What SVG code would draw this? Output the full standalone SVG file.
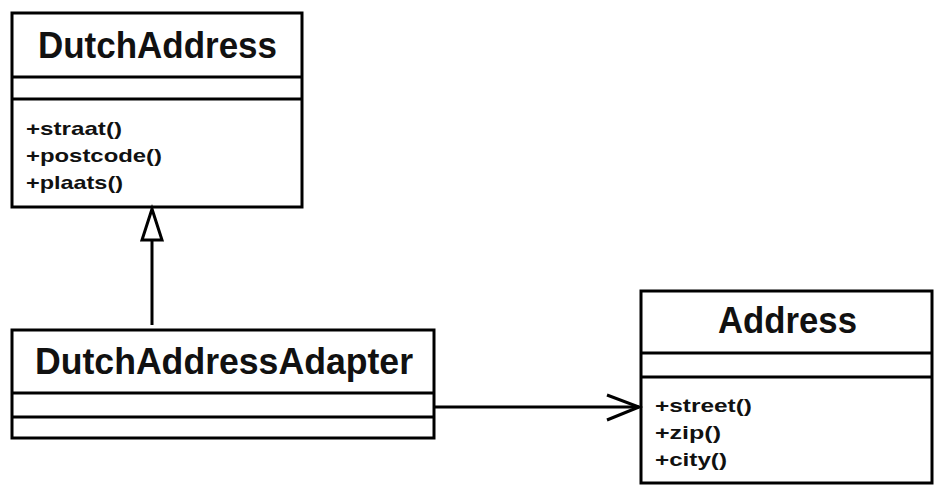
<svg xmlns="http://www.w3.org/2000/svg" width="939" height="497" viewBox="0 0 939 497">
<style>
.box{fill:#fff;stroke:#000;stroke-width:3}
.div{stroke:#000;stroke-width:3}
.title{font-family:"Liberation Sans",Arial,sans-serif;font-weight:bold;font-size:37px;fill:#111}
.mem{font-family:"Liberation Sans",Arial,sans-serif;font-weight:bold;font-size:19px;fill:#111}
.conn{fill:none;stroke:#000;stroke-width:3}
</style>
<rect width="939" height="497" fill="#fff"/>
<g id="DutchAddress">
<rect class="box" x="12" y="13" width="290" height="194"/>
<line class="div" x1="12" y1="77" x2="302" y2="77"/>
<line class="div" x1="12" y1="99" x2="302" y2="99"/>
<text class="title" x="38" y="58" textLength="239" lengthAdjust="spacingAndGlyphs">DutchAddress</text>
<text class="mem" x="26" y="135" textLength="96" lengthAdjust="spacingAndGlyphs">+straat()</text>
<text class="mem" x="26" y="162" textLength="136" lengthAdjust="spacingAndGlyphs">+postcode()</text>
<text class="mem" x="26" y="189" textLength="97" lengthAdjust="spacingAndGlyphs">+plaats()</text>
</g>
<g id="DutchAddressAdapter">
<rect class="box" x="12" y="330" width="422" height="108"/>
<line class="div" x1="12" y1="393" x2="434" y2="393"/>
<line class="div" x1="12" y1="417" x2="434" y2="417"/>
<text class="title" x="35" y="374" textLength="378" lengthAdjust="spacingAndGlyphs">DutchAddressAdapter</text>
</g>
<g id="Address">
<rect class="box" x="641" y="291" width="291" height="192"/>
<line class="div" x1="641" y1="353" x2="932" y2="353"/>
<line class="div" x1="641" y1="377" x2="932" y2="377"/>
<text class="title" x="718" y="333" textLength="139" lengthAdjust="spacingAndGlyphs">Address</text>
<text class="mem" x="655" y="412" textLength="97" lengthAdjust="spacingAndGlyphs">+street()</text>
<text class="mem" x="655" y="439" textLength="66" lengthAdjust="spacingAndGlyphs">+zip()</text>
<text class="mem" x="655" y="466" textLength="72" lengthAdjust="spacingAndGlyphs">+city()</text>
</g>
<g id="connectors">
<line class="conn" x1="152" y1="325" x2="152" y2="240"/>
<polygon class="conn" points="152,209 142,240 162,240"/>
<line class="conn" x1="434" y1="407" x2="639" y2="407"/>
<polyline class="conn" points="607,395 639,407 607,420"/>
</g>
</svg>
